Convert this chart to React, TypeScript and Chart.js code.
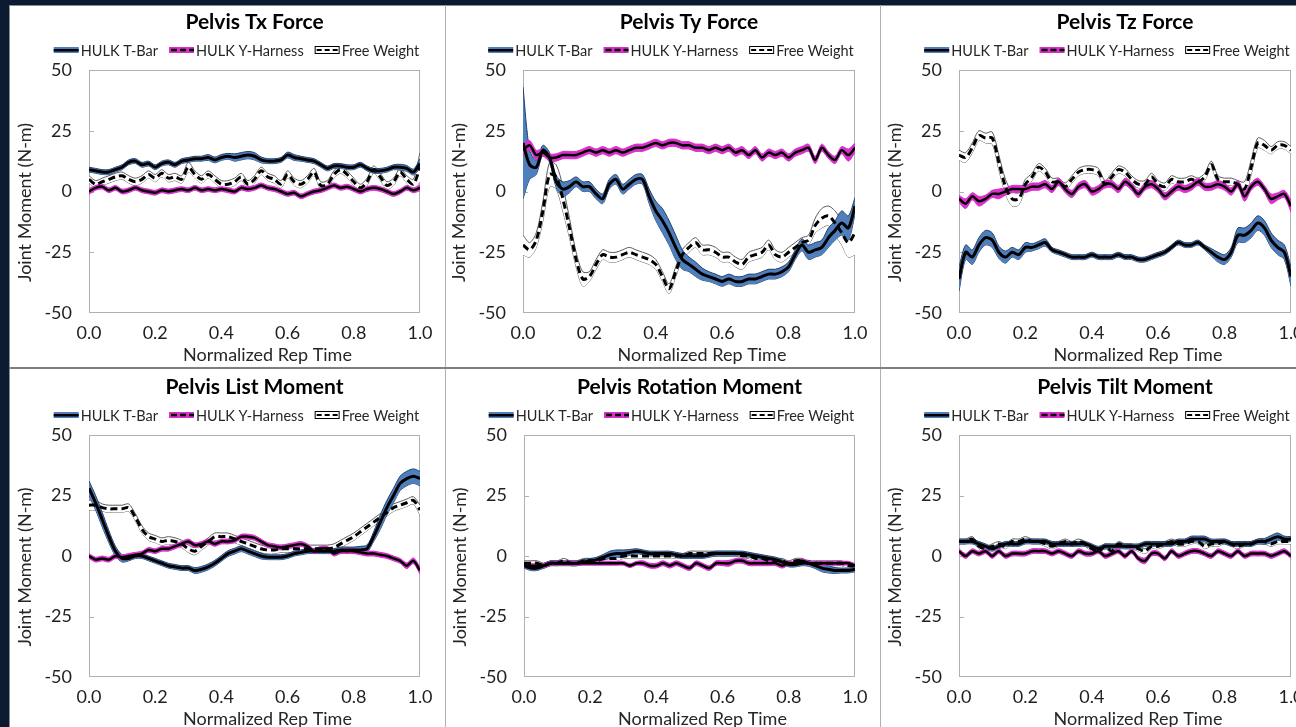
import React, { useEffect, useRef } from "react";
import { Chart, registerables } from "chart.js";
Chart.register(...registerables);

const FONT = "Lato, 'Open Sans', sans-serif";
const TBAR_FILL = "#4f7fbd";
const TBAR_EDGE = "#23406b";
const YH_FILL = "#d92fcb";
const FW_EDGE = "#5a5a5a";

const SERIES_LABELS = ["HULK T-Bar", "HULK Y-Harness", "Free Weight"];
const X_AXIS_TITLE = "Normalized Rep Time";
const Y_AXIS_TITLE = "Joint Moment (N-m)";
const MINOR_Y_TICKS = [25, 0, -25];

const TIME = [0, 0.02, 0.04, 0.06, 0.08, 0.1, 0.12, 0.14, 0.16, 0.18, 0.2, 0.22, 0.24, 0.26, 0.28, 0.3, 0.32, 0.34, 0.36, 0.38, 0.4, 0.42, 0.44, 0.46, 0.48, 0.5, 0.52, 0.54, 0.56, 0.58, 0.6, 0.62, 0.64, 0.66, 0.68, 0.7, 0.72, 0.74, 0.76, 0.78, 0.8, 0.82, 0.84, 0.86, 0.88, 0.9, 0.92, 0.94, 0.96, 0.98, 1];

// ---- Pelvis Tx Force ----
const TX_TBAR_MEAN = [9, 8.5, 8, 8, 9, 10, 12, 12.5, 11, 11.5, 10, 11.5, 12, 11, 12.5, 13, 13.5, 13.5, 14, 13, 14, 14.5, 14, 14.5, 15, 14.5, 13, 12.5, 12.5, 13, 15, 14, 13.5, 13, 12.5, 11, 9.5, 10.5, 10.5, 10, 10, 11, 9.5, 8.5, 8.5, 9, 10, 10, 9.5, 8, 11.5];
const TX_TBAR_SD = [1, 1, 1, 1, 1, 1, 1, 1, 1, 1, 1, 1, 1, 1, 1, 1, 1, 1, 1.2, 1.2, 1.2, 1.2, 1.5, 1.5, 1.5, 1.5, 1.2, 1, 1, 1, 1.2, 1.2, 1, 1, 1, 1, 1, 1, 1, 1, 1, 1, 1, 1, 1, 1, 1, 1.2, 1.2, 1.2, 2];
const TX_YH_MEAN = [0, 1.5, 2, 0.5, 1.5, 0, 0.5, 1.5, 0.5, 0, -0.5, 0.5, 0, 0.5, 1, 0.5, 1.5, 0.5, 1, 0.5, 1, 0.5, 0, 1.5, 1, 1.5, 2.5, 1.5, 1, 0, -1, -0.5, -2, -1, 0, 0.5, 1.5, 2.5, 1.5, 2, 1, 0, 1, 1.5, 1, 0, -1, 0, 1.5, 0.5, 1.5];
const TX_YH_SD = [1.2, 1, 1, 1, 1, 1, 1, 1, 1, 1, 1, 1, 1, 1, 1, 1, 1, 1, 1, 1, 1, 1, 1, 1, 1, 1, 1, 1, 1, 1, 1, 1, 1, 1, 1, 1, 1, 1, 1, 1, 1, 1, 1, 1, 1, 1, 1, 1, 1, 1, 1.2];
const TX_FW_MEAN = [5, 3, 4, 5, 6, 6.5, 5, 4, 5, 7, 5.5, 7.5, 5.5, 6, 5, 10, 7, 5, 7, 5, 3, 3, 4, 6, 3, 5, 8.5, 6, 5, 3, 7, 4, 3, 5, 8, 2.5, 3, 7, 9, 7, 4, 1.5, 4, 9, 6, 2.5, 4, 8, 5, 3, 10];
const TX_FW_SD = [1.5, 1.5, 1.5, 1.5, 1.5, 1.5, 1.5, 1.5, 1.5, 1.5, 1.5, 1.5, 1.5, 1.5, 1.5, 2, 1.5, 1.5, 1.5, 1.5, 1.5, 1.5, 1.5, 1.5, 1.5, 1.5, 1.5, 1.5, 1.5, 1.5, 1.5, 1.5, 1.5, 1.5, 1.5, 1.5, 1.5, 1.5, 1.5, 1.5, 1.5, 1.5, 1.5, 1.5, 1.5, 1.5, 1.5, 1.5, 1.5, 2, 6];

// ---- Pelvis Ty Force ----
const TY_TBAR_MEAN = [20, 11, 10, 17, 14, 4, 1, 2, 4, 2, 2, -1, -3, 3, 5, 1, 3, 5, 5, -2, -8, -12, -17, -23, -28, -30, -32, -34, -35, -36, -37, -36, -37, -37, -36, -36, -35, -34, -34, -33, -31, -26, -22, -25, -24, -23, -19, -16, -13, -15, -6];
const TY_TBAR_SD = [23, 6, 3, 2, 2, 2.5, 3, 2.5, 2, 2, 2, 2, 2, 2, 2, 2, 2, 2, 2, 3, 4, 5, 5, 5, 4, 3, 3, 2.5, 2, 2, 2, 2, 2, 2, 2, 2, 2, 2, 2, 2, 2, 2, 2.5, 3, 3, 3, 4, 4, 5, 5, 3.5];
const TY_YH_MEAN = [17, 19, 15, 16, 14, 14, 15, 15, 15, 16, 17, 16, 17, 16, 17, 16, 17, 18, 18, 19, 20, 19, 20, 20, 19, 19, 18, 18, 17, 18, 17, 18, 16, 17, 15, 17, 14, 16, 15, 16, 14, 16, 17, 18, 13, 18, 15, 13, 17, 15, 18];
const TY_YH_SD = [2.5, 2, 2, 1.5, 1.5, 1.5, 1.5, 1.5, 1.5, 1.5, 1.5, 1.5, 1.5, 1.5, 1.5, 1.5, 1.5, 1.5, 1.5, 1.5, 1.5, 1.5, 1.5, 1.5, 1.5, 1.5, 1.5, 1.5, 1.5, 1.5, 1.5, 1.5, 1.5, 1.5, 1.5, 1.5, 1.5, 1.5, 1.5, 1.5, 1.5, 1.5, 1.5, 1.5, 1.5, 1.5, 1.5, 1.5, 1.5, 2.5, 2];
const TY_FW_MEAN = [-22, -24, -20, -8, 7, 6, -3, -15, -28, -36, -35, -30, -26, -27, -27, -26, -25, -26, -27, -28, -30, -35, -40, -33, -26, -23, -21, -24, -24, -25, -27, -27, -29, -30, -27, -26, -25, -22, -26, -27, -25, -23, -21, -20, -14, -11, -10, -13, -17, -21, -17];
const TY_FW_SD = [4, 3, 3, 4, 5, 5, 5, 4, 3, 3, 2, 2, 2, 2, 2, 2, 2, 2, 2, 2, 2, 2, 2, 2, 2, 2, 2, 2, 2, 2, 2, 2, 2, 2, 2, 2, 2, 2, 2, 2, 2, 2, 2, 2, 3, 4, 4, 5, 5, 6, 9];

// ---- Pelvis Tz Force ----
const TZ_TBAR_MEAN = [-36, -25, -27, -22, -19, -20, -25, -27, -25, -26, -23, -23, -22, -21, -24, -25, -26, -27, -27, -27, -26, -27, -27, -27, -26, -27, -27, -28, -28, -27, -26, -25, -23, -21, -22, -22, -21, -23, -25, -27, -28, -25, -18, -18, -16, -13, -15, -20, -23, -25, -35];
const TZ_TBAR_SD = [5, 3, 3, 3, 3, 3, 2.5, 2.5, 2, 2, 2, 1.5, 1.5, 1.5, 1, 1, 1, 1, 1, 1, 1, 1, 1, 1, 1, 1, 1, 1, 1, 1, 1, 1, 1, 1, 1, 1, 1, 1, 1.5, 2, 2, 2, 3, 3, 3, 3, 3, 3, 3, 3, 4];
const TZ_YH_MEAN = [-3, -5, -2, -4, -3, -1, -1, 0, 1, 1, 1, 2, 2, 3, 1, 4, 1, -1, 2, 3, 0, 1, 3, 3, 1, 4, 2, -1, 2, 3, 1, -2, 0, 2, 1, 2, 4, 2, 2, 3, 2, 0, 3, -2, 2, 4, 1, -3, -2, -1, -6];
const TZ_YH_SD = [1.5, 2, 1.5, 2, 1.5, 1.5, 2, 1.5, 1.5, 1.5, 1.5, 1.5, 1.5, 1.5, 1.5, 1.5, 1.5, 1.5, 1.5, 1.5, 1.5, 1.5, 1.5, 1.5, 1.5, 1.5, 1.5, 1.5, 1.5, 1.5, 1.5, 1.5, 1.5, 1.5, 1.5, 1.5, 1.5, 1.5, 1.5, 1.5, 1.5, 1.5, 1.5, 2, 1.5, 1.5, 1.5, 2, 1.5, 1.5, 2.5];
const TZ_FW_MEAN = [15, 14, 18, 23, 22, 22, 12, 2, -3, -3, 3, 6, 10, 8, 4, 4, 2, 5, 8, 9, 9, 8, 3, 6, 9, 8, 5, 3, 3, 6, 3, 2, 5, 4, 4, 5, 4, 6, 11, 5, 4, 4, 3, 1, 10, 20, 19, 17, 19, 19, 17];
const TZ_FW_SD = [2, 2, 2, 2, 2, 2.5, 3, 3, 3, 2.5, 2, 1.5, 1.5, 1.5, 1.5, 1.5, 1.5, 1.5, 1.5, 1.5, 1.5, 1.5, 1.5, 1.5, 1.5, 1.5, 1.5, 1.5, 1.5, 1.5, 1.5, 1.5, 1.5, 1.5, 1.5, 1.5, 1.5, 1.5, 1.5, 1.5, 1.5, 1.5, 1.5, 3, 3, 2, 2, 1.5, 1.5, 1.5, 1.5];

// ---- Pelvis List Moment ----
const LS_TBAR_MEAN = [28, 22, 15, 8, 2, -1, -1, 0, 0, -1, -2, -3, -4, -4.5, -5, -5, -6, -5.5, -4.5, -3, -1, 1, 2, 3, 2, 1, 0, -0.5, -0.5, -0.5, 0, 1, 1.5, 2, 2, 2, 2, 2, 2.5, 2.5, 2.5, 2.5, 3, 8, 14, 20, 25, 30, 32, 33, 32];
const LS_TBAR_SD = [3, 3, 3, 2.5, 2, 1.5, 1, 1, 1, 1, 1, 1, 1, 1, 1, 1, 1.2, 1.2, 1.2, 1.2, 1.2, 1.2, 1.2, 1.2, 1.2, 1.2, 1.2, 1, 1, 1, 1, 1, 1, 1, 1, 1, 1, 1, 1.2, 1.2, 1.2, 1.5, 1.5, 2, 3, 3, 3, 3, 3, 3, 3];
const LS_YH_MEAN = [0, -1.5, -1, -1.5, 0, -0.5, 0, 0.5, 1, 2.5, 2, 3, 3, 4, 5, 6, 4.5, 5, 6, 5, 6, 6, 6.5, 8, 8, 7.5, 6, 4.5, 4, 3.5, 4, 4.5, 5, 4, 2, 3, 3, 1, 2, 2, 2, 1.5, 1, 1, 0.5, 0, -1, -2, -4, -2, -6];
const LS_YH_SD = [1, 1, 1, 1, 1, 1, 1, 1, 1, 1, 1, 1, 1, 1, 1, 1, 1, 1, 1, 1, 1, 1, 1, 1, 1, 1, 1, 1, 1, 1, 1, 1, 1, 1, 1, 1, 1, 1, 1, 1, 1, 1, 1, 1, 1, 1, 1, 1, 1.2, 1.2, 1.5];
const LS_FW_MEAN = [21, 21, 20, 19.5, 19.5, 19.5, 20, 16, 11, 8, 7, 6, 6.5, 6, 5, 3, 2, 4, 6, 8, 8, 8, 7, 6, 5, 4, 3, 2.5, 2.5, 3, 3, 3, 3, 3, 3, 3, 3, 3.5, 5, 6.5, 8, 10, 12, 14, 16, 18, 20, 21, 22, 23, 19];
const LS_FW_SD = [2, 2, 1.5, 1.5, 1.5, 1.5, 1.5, 1.5, 1.5, 1.5, 1.5, 1.5, 1.5, 1.5, 1.5, 1.5, 1.5, 1.5, 1.5, 1.5, 1.5, 1.5, 1.5, 1.5, 1.5, 1.5, 1.5, 1.5, 1.5, 1.5, 1.5, 1.5, 1.5, 1.5, 1.5, 1.5, 1.5, 1.5, 1.5, 1.5, 1.5, 1.5, 1.5, 1.5, 1.5, 1.5, 1.5, 1.5, 1.5, 1.5, 2];

// ---- Pelvis Rotation Moment ----
const RT_TBAR_MEAN = [-4, -5, -5, -4, -3, -3, -3, -3, -3, -2.5, -2, -1.5, -0.5, 0.5, 1, 1, 1.5, 2, 1.5, 1, 1, 1, 1, 0.5, 0, 0, 0, 0, 0.5, 1, 1, 1, 1, 1, 0.5, 0, -0.5, -1, -1.5, -2.5, -3.5, -3.5, -3, -3, -4, -5, -5.5, -6, -6, -6, -5.5];
const RT_TBAR_SD = [1, 1, 1, 1, 1, 1, 1, 1, 1, 1, 1, 1, 1.2, 1.5, 1.5, 1.5, 1.2, 1, 1, 1, 1, 1, 1, 1, 1, 1, 1, 1, 1, 1, 1, 1, 1, 1, 1, 1, 1, 1, 1, 1, 1, 1, 1, 1.2, 1.2, 1.5, 1.5, 1.2, 1, 1, 1];
const RT_YH_MEAN = [-4, -4, -4, -4, -3, -3, -3, -3, -3, -3, -3, -3, -3, -3, -3, -3, -4, -3, -3, -4, -4, -3, -4, -3, -4, -5, -3, -4, -5, -3, -3, -3, -2, -2, -3, -3, -3, -3, -3, -4, -3, -3, -2, -3, -3, -3, -3, -3, -3, -3, -4];
const RT_YH_SD = [0.8, 0.8, 0.8, 0.8, 0.8, 0.8, 0.8, 0.8, 0.8, 0.8, 0.8, 0.8, 0.8, 0.8, 0.8, 0.8, 0.8, 0.8, 1, 1, 1, 1, 1, 1, 1, 1, 1, 1, 1, 1, 1, 1.2, 1, 1, 1, 1, 1, 1, 1, 1, 0.8, 0.8, 0.8, 0.8, 0.8, 0.8, 0.8, 0.8, 0.8, 0.8, 0.8];
const RT_FW_MEAN = [-3, -3, -3, -4, -3, -3, -2, -3, -3, -2, -2, -2, -1, -1, -1, 0, 0, 0, 0, 0, 0, 0, 0, 0, 0, 1, 1, 1, 1, 1, 1, 1, 1, 0, 0, -1, -1, -2, -2, -2, -3, -2, -2, -3, -3, -3, -3, -3, -3, -4, -4];
const RT_FW_SD = [1, 1, 1, 1, 1, 1, 1, 1, 1, 1, 1, 1, 1, 1, 1, 1, 1, 1, 1, 1, 1, 1, 1, 1, 1, 1, 1, 1, 1, 1, 1, 1, 1, 1, 1, 1, 1, 1, 1, 1, 1, 1, 1, 1, 1, 1, 1, 1, 1, 1, 1];

// ---- Pelvis Tilt Moment ----
const TL_TBAR_MEAN = [6, 6, 6, 5, 4, 3, 4, 5, 5, 5, 6, 6, 6, 6, 5, 5, 5, 5, 5, 5, 4, 3, 4, 4, 4, 4, 4, 4, 5, 5, 5, 5, 5, 6, 6, 7, 7, 7, 6, 6, 6, 5, 5, 5, 5, 6, 6, 7, 8, 7, 7];
const TL_TBAR_SD = [1, 1, 1, 1, 1, 1, 1, 1, 1, 1, 1, 1, 1, 1, 1, 1, 1, 1, 1, 1, 1, 1, 1, 1, 1, 1, 1, 1, 1, 1, 1, 1, 1, 1, 1, 1.2, 1.2, 1.2, 1, 1, 1, 1, 1, 1, 1, 1, 1.2, 1.5, 1.5, 1.2, 1];
const TL_YH_MEAN = [2, 0, 2, 1, 2, 0, 2, 0, 1, 1, 1, 2, 2, 2, 1, 2, 1, 0, 2, 1, 1, 2, 0, 1, 2, 0, 2, -1, -2, 1, 1, -1, 2, 0, 1, 2, 2, 1, 0, 2, 1, 0, 2, 0, 1, 1, 1, 0, 1, 2, 0];
const TL_YH_SD = [1, 1, 1, 1, 1, 1, 1, 1, 1, 1, 1, 1, 1, 1, 1, 1, 1, 1, 1, 1, 1, 1, 1, 1, 1, 1, 1, 1, 1.2, 1, 1, 1, 1, 1, 1, 1, 1, 1, 1, 1, 1, 1, 1, 1, 1, 1, 1, 1, 1, 1, 1];
const TL_FW_MEAN = [6, 6, 7, 4, 3, 4, 5, 4, 6, 6, 7, 6, 6, 5, 4, 5, 6, 5, 6, 5, 3, 2, 4, 2, 5, 4, 4, 3, 2, 4, 4, 5, 6, 5, 5, 6, 6, 4, 5, 5, 6, 5, 4, 5, 5, 6, 6, 5, 6, 6, 6];
const TL_FW_SD = [1, 1, 1, 1, 1, 1, 1, 1, 1, 1, 1, 1, 1, 1, 1, 1, 1, 1, 1, 1, 1, 1, 1, 1, 1, 1, 1, 1, 1, 1, 1, 1, 1, 1, 1, 1, 1, 1, 1, 1, 1, 1, 1, 1, 1, 1, 1, 1, 1, 1, 1];

type PanelSpec = {
  title: string;
  tbM: number[]; tbS: number[];
  yhM: number[]; yhS: number[];
  fwM: number[]; fwS: number[];
  left: number; top: number; plotW: number; plotH: number;
};

const PAD_L = 80;
const PAD_T = 66;
const PAD_R = 24;
const PAD_B = 54;

const PANELS: PanelSpec[] = [
  { title: "Pelvis Tx Force", tbM: TX_TBAR_MEAN, tbS: TX_TBAR_SD, yhM: TX_YH_MEAN, yhS: TX_YH_SD, fwM: TX_FW_MEAN, fwS: TX_FW_SD, left: 9, top: 4, plotW: 331, plotH: 243 },
  { title: "Pelvis Ty Force", tbM: TY_TBAR_MEAN, tbS: TY_TBAR_SD, yhM: TY_YH_MEAN, yhS: TY_YH_SD, fwM: TY_FW_MEAN, fwS: TY_FW_SD, left: 443, top: 4, plotW: 332, plotH: 243 },
  { title: "Pelvis Tz Force", tbM: TZ_TBAR_MEAN, tbS: TZ_TBAR_SD, yhM: TZ_YH_MEAN, yhS: TZ_YH_SD, fwM: TZ_FW_MEAN, fwS: TZ_FW_SD, left: 879, top: 4, plotW: 332, plotH: 243 },
  { title: "Pelvis List Moment", tbM: LS_TBAR_MEAN, tbS: LS_TBAR_SD, yhM: LS_YH_MEAN, yhS: LS_YH_SD, fwM: LS_FW_MEAN, fwS: LS_FW_SD, left: 9, top: 369, plotW: 331, plotH: 242 },
  { title: "Pelvis Rotation Moment", tbM: RT_TBAR_MEAN, tbS: RT_TBAR_SD, yhM: RT_YH_MEAN, yhS: RT_YH_SD, fwM: RT_FW_MEAN, fwS: RT_FW_SD, left: 444, top: 369, plotW: 331, plotH: 242 },
  { title: "Pelvis Tilt Moment", tbM: TL_TBAR_MEAN, tbS: TL_TBAR_SD, yhM: TL_YH_MEAN, yhS: TL_YH_SD, fwM: TL_FW_MEAN, fwS: TL_FW_SD, left: 879, top: 369, plotW: 332, plotH: 242 },
];

const pts = (arr: number[]) => arr.map((y, i) => ({ x: TIME[i], y }));
const lower = (m: number[], s: number[]) => m.map((v, i) => v - s[i]);
const upper = (m: number[], s: number[]) => m.map((v, i) => v + s[i]);

function makeDecor(title: string) {
  return {
    id: "decor",
    beforeDatasetsDraw(chart: any) {
      const { ctx, chartArea: a } = chart;
      ctx.save();
      ctx.setLineDash([]);
      ctx.strokeStyle = "#b0b0b0";
      ctx.lineWidth = 1;
      ctx.strokeRect(Math.round(a.left) + 0.5, Math.round(a.top) + 0.5, Math.round(a.right - a.left) - 1, Math.round(a.bottom - a.top) - 1);
      const ys = chart.scales.y;
      MINOR_Y_TICKS.forEach((v) => {
        const py = Math.round(ys.getPixelForValue(v)) + 0.5;
        ctx.beginPath();
        ctx.moveTo(a.left, py);
        ctx.lineTo(a.left + 5, py);
        ctx.stroke();
      });
      ctx.restore();
    },
    afterDraw(chart: any) {
      const { ctx, chartArea: a } = chart;
      const cx = (a.left + a.right) / 2;
      const cy = (a.top + a.bottom) / 2;
      ctx.save();
      ctx.setLineDash([]);
      ctx.textAlign = "center";
      ctx.textBaseline = "middle";
      // title
      ctx.fillStyle = "#000";
      ctx.font = `bold 21px ${FONT}`;
      ctx.fillText(title, cx, a.top - 48);
      // axis titles
      ctx.fillStyle = "#262626";
      ctx.font = `18px ${FONT}`;
      ctx.fillText(X_AXIS_TITLE, cx + 13, a.bottom + 42);
      ctx.save();
      ctx.translate(a.left - 64, cy + 11);
      ctx.rotate(-Math.PI / 2);
      ctx.font = `18px ${FONT}`;
      ctx.fillText(Y_AXIS_TITLE, 0, 0);
      ctx.restore();
      // legend
      ctx.font = `14.5px ${FONT}`;
      const iconW = 25, gapIT = 2, gapItems = 11;
      const widths = SERIES_LABELS.map((l) => ctx.measureText(l).width);
      const total = widths.reduce((s, w) => s + iconW + gapIT + w, 0) + gapItems * (SERIES_LABELS.length - 1);
      let x = cx - 18 - total / 2;
      const ly = Math.round(a.top - 20);
      SERIES_LABELS.forEach((label, i) => {
        if (i === 0) {
          ctx.fillStyle = TBAR_FILL;
          ctx.fillRect(x, ly - 3, iconW, 6);
          ctx.fillStyle = "#000";
          ctx.fillRect(x, ly - 1, iconW, 2.5);
        } else if (i === 1) {
          ctx.fillStyle = YH_FILL;
          ctx.fillRect(x, ly - 3, iconW, 6);
          ctx.strokeStyle = "#000";
          ctx.lineWidth = 2.5;
          ctx.setLineDash([6, 3]);
          ctx.beginPath();
          ctx.moveTo(x + 2, ly);
          ctx.lineTo(x + iconW, ly);
          ctx.stroke();
          ctx.setLineDash([]);
        } else {
          ctx.fillStyle = "#fff";
          ctx.fillRect(x, ly - 4, iconW, 8);
          ctx.strokeStyle = "#000";
          ctx.lineWidth = 1;
          ctx.strokeRect(x + 0.5, ly - 3.5, iconW - 1, 7);
          ctx.lineWidth = 2;
          ctx.setLineDash([5, 3]);
          ctx.beginPath();
          ctx.moveTo(x + 2, ly);
          ctx.lineTo(x + iconW, ly);
          ctx.stroke();
          ctx.setLineDash([]);
        }
        ctx.fillStyle = "#262626";
        ctx.textAlign = "left";
        ctx.fillText(label, x + iconW + gapIT, ly + 1);
        x += iconW + gapIT + widths[i] + gapItems;
      });
      ctx.restore();
    },
  };
}

function PanelChart({ spec }: { spec: PanelSpec }) {
  const ref = useRef<HTMLCanvasElement | null>(null);
  const w = PAD_L + spec.plotW + PAD_R;
  const h = PAD_T + spec.plotH + PAD_B;
  useEffect(() => {
    if (!ref.current) return;
    const thin = { pointRadius: 0, borderWidth: 1, tension: 0.3 };
    const chart = new Chart(ref.current, {
      type: "line",
      data: {
        datasets: [
          { ...thin, label: "fw-lo", data: pts(lower(spec.fwM, spec.fwS)), borderColor: FW_EDGE, fill: false, order: 9 },
          { ...thin, label: "fw-hi", data: pts(upper(spec.fwM, spec.fwS)), borderColor: FW_EDGE, fill: "-1", backgroundColor: "#ffffff", order: 8 },
          { ...thin, label: "tb-lo", data: pts(lower(spec.tbM, spec.tbS)), borderColor: TBAR_EDGE, fill: false, order: 7 },
          { ...thin, label: "tb-hi", data: pts(upper(spec.tbM, spec.tbS)), borderColor: TBAR_EDGE, fill: "-1", backgroundColor: TBAR_FILL, order: 6 },
          { ...thin, label: "yh-lo", data: pts(lower(spec.yhM, spec.yhS)), borderColor: YH_FILL, fill: false, order: 5 },
          { ...thin, label: "yh-hi", data: pts(upper(spec.yhM, spec.yhS)), borderColor: YH_FILL, fill: "-1", backgroundColor: YH_FILL, order: 4 },
          { label: SERIES_LABELS[0], data: pts(spec.tbM), borderColor: "#000", borderWidth: 3, pointRadius: 0, tension: 0.3, fill: false, order: 3 },
          { label: SERIES_LABELS[1], data: pts(spec.yhM), borderColor: "#000", borderWidth: 2.5, pointRadius: 0, tension: 0.3, fill: false, order: 2 },
          { label: SERIES_LABELS[2], data: pts(spec.fwM), borderColor: "#000", borderWidth: 3, borderDash: [7, 4], pointRadius: 0, tension: 0.3, fill: false, order: 1 },
        ] as any,
      },
      options: {
        responsive: false,
        maintainAspectRatio: false,
        animation: false,
        devicePixelRatio: 1,
        layout: { padding: { left: 0, top: PAD_T, right: PAD_R, bottom: 0 } },
        plugins: { legend: { display: false }, title: { display: false }, tooltip: { enabled: false } },
        scales: {
          x: {
            type: "linear",
            min: 0,
            max: 1,
            afterFit: (s: any) => { s.height = PAD_B; },
            grid: { display: false, drawTicks: false },
            border: { display: false },
            ticks: {
              stepSize: 0.2,
              padding: 9,
              maxRotation: 0,
              autoSkip: false,
              color: "#1f1f1f",
              font: { family: FONT, size: 18 },
              callback: (v: any) => Number(v).toFixed(1),
            },
          },
          y: {
            type: "linear",
            min: -50,
            max: 50,
            afterFit: (s: any) => { s.width = PAD_L; },
            grid: { display: false, drawTicks: false },
            border: { display: false },
            ticks: {
              stepSize: 25,
              padding: 17,
              color: "#1f1f1f",
              font: { family: FONT, size: 18 },
              callback: (v: any) => String(v),
            },
          },
        },
      } as any,
      plugins: [makeDecor(spec.title)],
    });
    return () => chart.destroy();
  }, [spec]);
  return (
    <canvas
      ref={ref}
      width={w}
      height={h}
      style={{ position: "absolute", left: spec.left, top: spec.top, width: w, height: h, zIndex: 1 }}
    />
  );
}

export default function App() {
  return (
    <div style={{ position: "fixed", left: 0, top: 0, width: 1296, height: 727, overflow: "hidden", background: "#0c1a31" }}>
      <div style={{ position: "absolute", left: 9, top: 5, right: 0, bottom: 0, background: "#fff", borderLeft: "1px solid #8c8c8c", borderTop: "1px solid #8c8c8c" }} />
      {PANELS.map((p) => (
        <PanelChart key={p.title} spec={p} />
      ))}
      <div style={{ position: "absolute", left: 445, top: 5, width: 1, height: 722, background: "#b0b0b0", zIndex: 2 }} />
      <div style={{ position: "absolute", left: 880, top: 5, width: 1, height: 722, background: "#b0b0b0", zIndex: 2 }} />
      <div style={{ position: "absolute", left: 9, top: 367, width: 1287, height: 2, background: "#7f7f7f", zIndex: 2 }} />
    </div>
  );
}
